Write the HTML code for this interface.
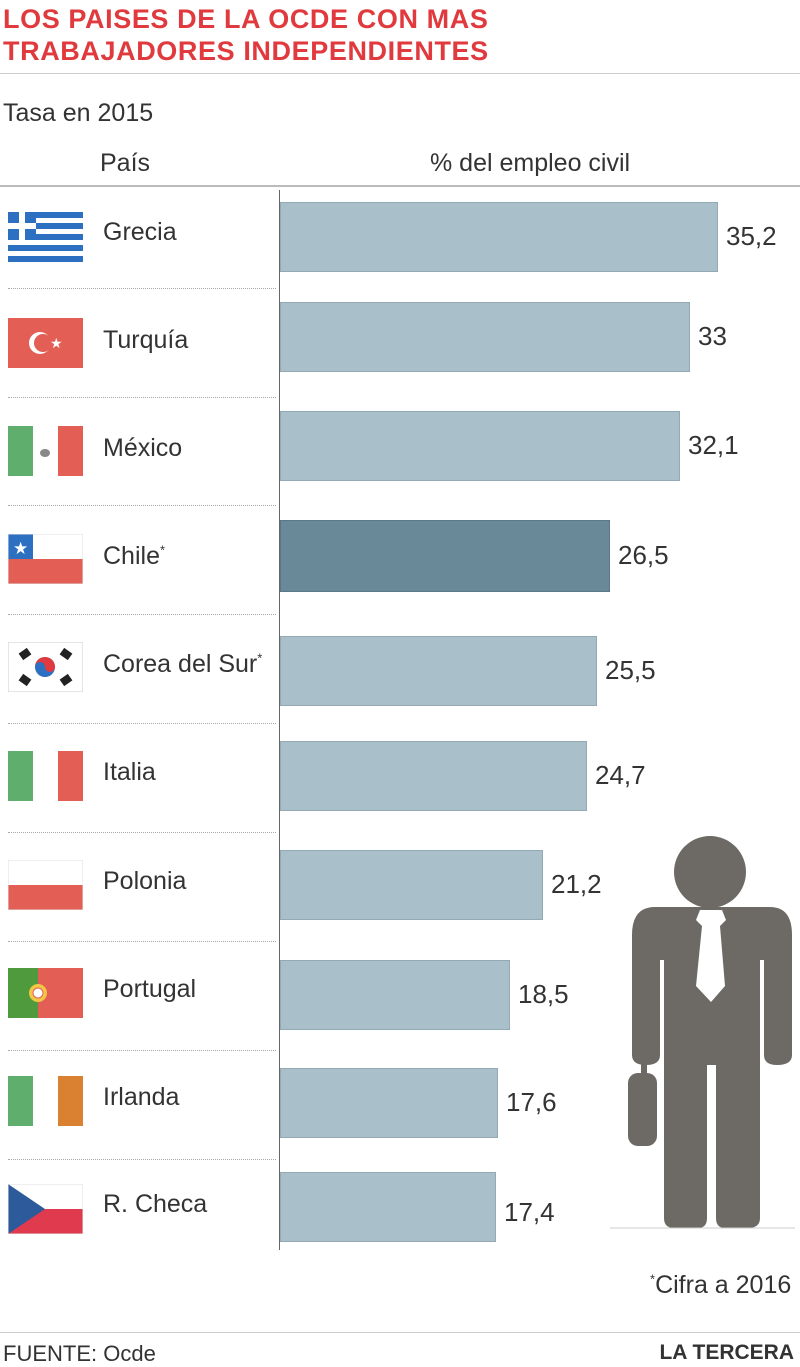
<!DOCTYPE html>
<html><head><meta charset="utf-8"><style>
body{margin:0;width:800px;height:1366px;background:#fff;font-family:"Liberation Sans",sans-serif;position:relative;overflow:hidden;color:#333}
.a{position:absolute}
.t{font-weight:bold;color:#e03a3e;font-size:27px;line-height:34px;left:3px;letter-spacing:0.6px}
.name{font-size:25px;left:103px;color:#333}
.val{font-size:26px;color:#333}
.bar{position:absolute;left:280px;height:70px;background:#a9c0ca;border:1px solid #93aab5;box-sizing:border-box}
.sep{position:absolute;left:8px;width:268px;border-top:1px dotted #aaa}
.flag{position:absolute;left:8px;width:75px;height:50px;overflow:hidden}
</style></head><body>
<div class="a t" style="top:2px">LOS PAISES DE LA OCDE CON MAS</div>
<div class="a t" style="top:34px">TRABAJADORES INDEPENDIENTES</div>
<div class="a" style="top:73px;left:0;width:800px;border-top:1px solid #ccc"></div>
<div class="a" style="top:99px;left:3px;font-size:25px">Tasa en 2015</div>
<div class="a" style="top:149px;left:100px;font-size:25px">País</div>
<div class="a" style="top:149px;left:430px;font-size:25px">% del empleo civil</div>
<div class="a" style="top:185px;left:0;width:800px;border-top:2px solid #bbb"></div>
<div class="a" style="top:190px;left:279px;height:1060px;border-left:1px solid #666"></div>

<div class="bar" style="top:202px;width:438px"></div><div class="a val" style="top:221px;left:726px">35,2</div>
<div class="bar" style="top:302px;width:410px"></div><div class="a val" style="top:321px;left:698px">33</div>
<div class="bar" style="top:411px;width:400px"></div><div class="a val" style="top:430px;left:688px">32,1</div>
<div class="bar" style="top:520px;width:330px;background:#6a8998;border-color:#5a7988;height:72px"></div><div class="a val" style="top:540px;left:618px">26,5</div>
<div class="bar" style="top:636px;width:317px"></div><div class="a val" style="top:655px;left:605px">25,5</div>
<div class="bar" style="top:741px;width:307px"></div><div class="a val" style="top:760px;left:595px">24,7</div>
<div class="bar" style="top:850px;width:263px"></div><div class="a val" style="top:869px;left:551px">21,2</div>
<div class="bar" style="top:960px;width:230px"></div><div class="a val" style="top:979px;left:518px">18,5</div>
<div class="bar" style="top:1068px;width:218px"></div><div class="a val" style="top:1087px;left:506px">17,6</div>
<div class="bar" style="top:1172px;width:216px"></div><div class="a val" style="top:1197px;left:504px">17,4</div>

<div class="sep" style="top:288px"></div><div class="sep" style="top:397px"></div><div class="sep" style="top:505px"></div>
<div class="sep" style="top:614px"></div><div class="sep" style="top:723px"></div><div class="sep" style="top:832px"></div>
<div class="sep" style="top:941px"></div><div class="sep" style="top:1050px"></div><div class="sep" style="top:1159px"></div>

<div class="a name" style="top:218px">Grecia</div>
<div class="a name" style="top:326px">Turquía</div>
<div class="a name" style="top:434px">México</div>
<div class="a name" style="top:542px">Chile<sup style="font-size:13px">*</sup></div>
<div class="a name" style="top:650px">Corea del Sur<sup style="font-size:13px">*</sup></div>
<div class="a name" style="top:758px">Italia</div>
<div class="a name" style="top:867px">Polonia</div>
<div class="a name" style="top:975px">Portugal</div>
<div class="a name" style="top:1083px">Irlanda</div>
<div class="a name" style="top:1190px">R. Checa</div>

<svg class="flag" style="top:212px" viewBox="0 0 75 50"><rect width="75" height="50" fill="#fff"/><g fill="#2d6fc0"><rect y="0" width="75" height="6"/><rect y="11" width="75" height="6"/><rect y="22" width="75" height="6"/><rect y="33" width="75" height="6"/><rect y="44" width="75" height="6"/><rect width="28" height="28"/></g><rect x="11" width="6" height="28" fill="#fff"/><rect y="11" width="28" height="6" fill="#fff"/></svg>
<svg class="flag" style="top:318px" viewBox="0 0 75 50"><rect width="75" height="50" fill="#e35f55"/><circle cx="32" cy="25" r="11" fill="#fff"/><circle cx="35" cy="25" r="9" fill="#e35f55"/><text x="42" y="30" fill="#fff" font-size="14">★</text></svg>
<svg class="flag" style="top:426px" viewBox="0 0 75 50"><rect width="25" height="50" fill="#5fae6e"/><rect x="25" width="25" height="50" fill="#fff"/><rect x="50" width="25" height="50" fill="#e35f55"/><ellipse cx="37" cy="27" rx="5" ry="4" fill="#888"/></svg>
<svg class="flag" style="top:534px" viewBox="0 0 75 50"><rect width="75" height="25" fill="#fff"/><rect y="25" width="75" height="25" fill="#e35f55"/><rect width="25" height="25" fill="#2d6fc0"/><text x="5" y="20" fill="#fff" font-size="17">★</text><rect width="75" height="50" fill="none" stroke="#ddd"/></svg>
<svg class="flag" style="top:642px" viewBox="0 0 75 50"><rect width="75" height="50" fill="#fff" stroke="#ccc"/><circle cx="37" cy="25" r="10" fill="#2d6fc0"/><path d="M27 25a10 10 0 0 1 20 0a5 5 0 0 1-10 0a5 5 0 0 0-10 0z" fill="#e03a3e"/><g fill="#222"><rect x="12" y="8" width="10" height="8" transform="rotate(-35 17 12)"/><rect x="53" y="8" width="10" height="8" transform="rotate(35 58 12)"/><rect x="12" y="34" width="10" height="8" transform="rotate(35 17 38)"/><rect x="53" y="34" width="10" height="8" transform="rotate(-35 58 38)"/></g></svg>
<svg class="flag" style="top:751px" viewBox="0 0 75 50"><rect width="25" height="50" fill="#5fae6e"/><rect x="25" width="25" height="50" fill="#fff"/><rect x="50" width="25" height="50" fill="#e35f55"/></svg>
<svg class="flag" style="top:860px" viewBox="0 0 75 50"><rect width="75" height="25" fill="#fff"/><rect y="25" width="75" height="25" fill="#e35f55"/><rect width="75" height="50" fill="none" stroke="#ddd"/></svg>
<svg class="flag" style="top:968px" viewBox="0 0 75 50"><rect width="30" height="50" fill="#4e9a3c"/><rect x="30" width="45" height="50" fill="#e35f55"/><circle cx="30" cy="25" r="9" fill="#f2c744"/><circle cx="30" cy="25" r="5" fill="#fff" stroke="#e35f55"/></svg>
<svg class="flag" style="top:1076px" viewBox="0 0 75 50"><rect width="25" height="50" fill="#5fae6e"/><rect x="25" width="25" height="50" fill="#fff"/><rect x="50" width="25" height="50" fill="#d98130"/></svg>
<svg class="flag" style="top:1184px" viewBox="0 0 75 50"><rect width="75" height="25" fill="#fff"/><rect y="25" width="75" height="25" fill="#e03a4e"/><path d="M0 0L37 25L0 50z" fill="#2d5a9a"/><rect width="75" height="50" fill="none" stroke="#ddd"/></svg>

<svg class="a" style="left:600px;top:820px" width="200" height="420" viewBox="600 820 200 420">
<g fill="#6d6a65">
<circle cx="710" cy="872" r="36"/>
<path d="M655 907H770Q792 907 792 935V1055Q792 1065 777 1065Q764 1065 764 1055V960H760V1218Q760 1228 748 1228H725Q716 1228 716 1218V1065H707V1218Q707 1228 698 1228H674Q664 1228 664 1218V960H660V1055Q660 1065 646 1065Q632 1065 632 1055V935Q632 907 655 907z"/>
<rect x="641" y="1062" width="6" height="12"/>
<rect x="628" y="1073" width="29" height="73" rx="10"/>
</g>
<path d="M700 910H722L726 920L720 926L725 986L711 1002L696 986L702 926L696 920z" fill="#fff"/>
<line x1="610" y1="1228" x2="795" y2="1228" stroke="#ccc"/>
</svg>
<div class="a" style="top:1271px;left:650px;font-size:25px"><sup style="font-size:13px">*</sup>Cifra a 2016</div>
<div class="a" style="top:1332px;left:0;width:800px;border-top:1px solid #ccc"></div>
<div class="a" style="top:1341px;left:3px;font-size:22px">FUENTE: Ocde</div>
<div class="a" style="top:1341px;right:6px;font-size:21px;font-weight:bold;color:#333">LA TERCERA</div>
</body></html>
